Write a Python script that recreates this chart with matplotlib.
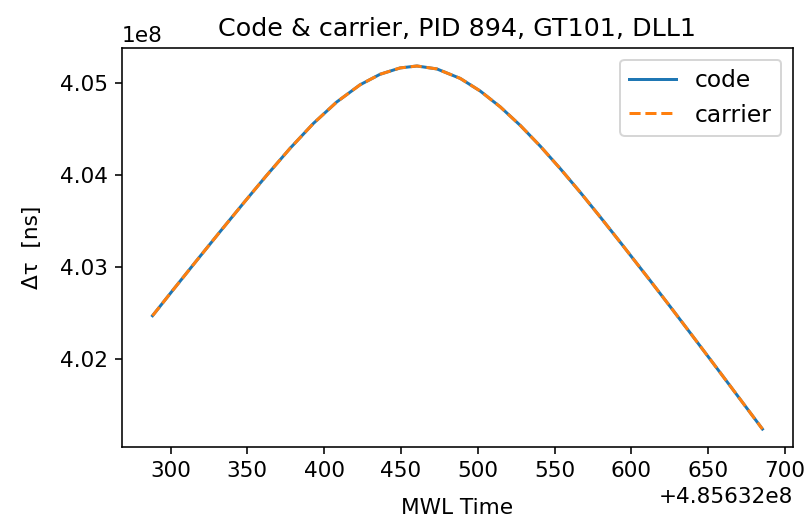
import matplotlib
matplotlib.use("Agg")
import matplotlib.pyplot as plt
from matplotlib.ticker import MultipleLocator
import numpy as np

# MWL time (s), relative to the epoch offset shown on the axis
t_base = 485632000
t_rel = [288.3, 301.7, 316.9, 332.1, 347.3, 362.6, 377.8, 393.0, 408.2, 423.4,
         436.4, 449.5, 460.4, 473.4, 488.6, 501.6, 514.7, 527.7, 540.7, 553.8,
         566.8, 579.9, 592.9, 612.5, 625.5, 638.5, 651.5, 664.6, 677.6, 685.3]

# delta tau, in units of 1e8 ns
code_dtau = [4.02469, 4.02750, 4.03066, 4.03379, 4.03688, 4.03994, 4.04287, 4.04558, 4.04791, 4.04978,
             4.05092, 4.05161, 4.05182, 4.05150, 4.05047, 4.04910, 4.04737, 4.04536, 4.04311, 4.04065,
             4.03808, 4.03538, 4.03264, 4.02845, 4.02563, 4.02278, 4.01991, 4.01700, 4.01410, 4.01238]
carrier_dtau = code_dtau  # the two traces overlap to the eye

t = t_base + np.array(t_rel)
code = np.array(code_dtau) * 1e8
carrier = np.array(carrier_dtau) * 1e8

plt.rcParams["font.size"] = 10.8

fig = plt.figure(figsize=(805 / 144, 520 / 144), dpi=144)
ax = fig.add_axes([0.1516, 0.140, 0.8334, 0.768])

ax.plot(t, code, label="code")
ax.plot(t, carrier, "--", label="carrier")

ax.yaxis.set_major_locator(MultipleLocator(0.01e8))

ax.set_title("Code & carrier, PID 894, GT101, DLL1", fontsize=12.7)
ax.set_xlabel("MWL Time", labelpad=8.5)
ax.set_ylabel("Δτ  [ns]", labelpad=9)
ax.legend(loc="upper right", fontsize=11.7)

fig.savefig("out.png", dpi=144)
